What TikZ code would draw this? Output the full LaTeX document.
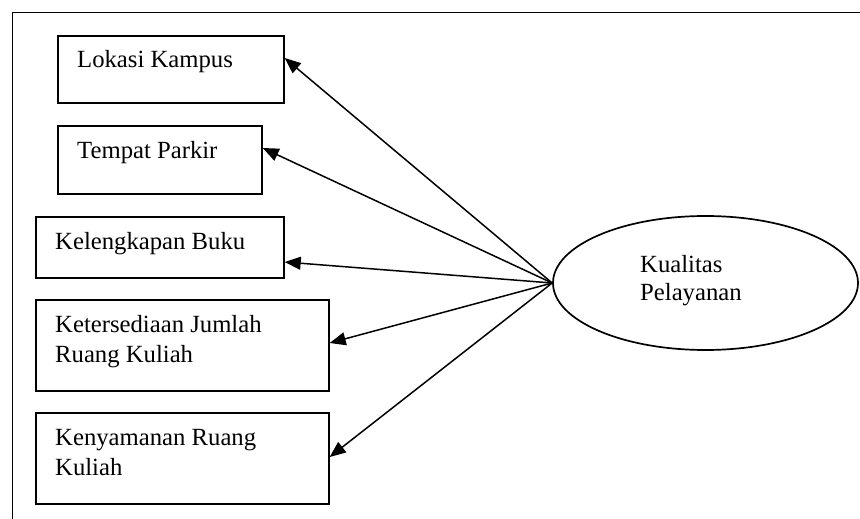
\documentclass[tikz,border=0pt]{standalone}
\usepackage{fontspec}
\setmainfont{Liberation Serif}
\usetikzlibrary{shapes.geometric,arrows.meta,calc}
\begin{document}
\begin{tikzpicture}[x=1pt,y=-1pt,
  boxnode/.style={draw,line width=1.7pt,inner sep=0pt,anchor=north west},
  lbl/.style={anchor=base west,inner sep=0pt,font=\fontsize{24.7}{30}\selectfont},
  arr/.style={line width=1.5pt,-{Triangle[length=16pt,width=13pt]}}]
\useasboundingbox (0,0) rectangle (860,519);
\clip (0,0) rectangle (860,519);
\fill[white] (0,0) rectangle (860,519);
\draw[line width=1.9pt] (12.5,12.5) rectangle (900,600);
% boxes
\node[boxnode,minimum width=226pt,minimum height=67pt] (b1) at (57,35) {};
\node[boxnode,minimum width=204pt,minimum height=68pt] (b2) at (57,125) {};
\node[boxnode,minimum width=248pt,minimum height=61pt] (b3) at (35,216) {};
\node[boxnode,minimum width=293pt,minimum height=91pt] (b4) at (35,299) {};
\node[boxnode,minimum width=293pt,minimum height=91pt] (b5) at (35,412) {};
% labels
\node[lbl] (l1) at (77,68) {Lokasi Kampus};
\node[lbl] (l2) at (77,158) {Tempat Parkir};
\node[lbl] (l3) at (55,249) {Kelengkapan Buku};
\node[lbl] (l4) at (55,332) {\vtop{\hbox{Ketersediaan Jumlah}\hbox{Ruang Kuliah}}};
\node[lbl] (l5) at (55,445) {\vtop{\hbox{Kenyamanan Ruang}\hbox{Kuliah}}};
% ellipse
\node[draw,ellipse,line width=1.7pt,inner sep=0pt,minimum width=305pt,minimum height=134pt] (k) at (705.5,283) {};
\node[lbl,font=\fontsize{24.7}{28}\selectfont] (kl) at (640,272) {\vtop{\hbox{Kualitas}\hbox{Pelayanan}}};
% arrow tips
\coordinate (t1) at ($(b1.north east)+(0,23)$);
\coordinate (t2) at ($(b2.north east)+(0,23)$);
\coordinate (t3) at ($(b3.north east)+(0,46)$);
\coordinate (t4) at ($(b4.north east)+(0,44)$);
\coordinate (t5) at ($(b5.north east)+(0,45)$);
\foreach \t in {t1,t2,t3,t4,t5} \draw[arr] (k.west) -- (\t);
\end{tikzpicture}
\end{document}
